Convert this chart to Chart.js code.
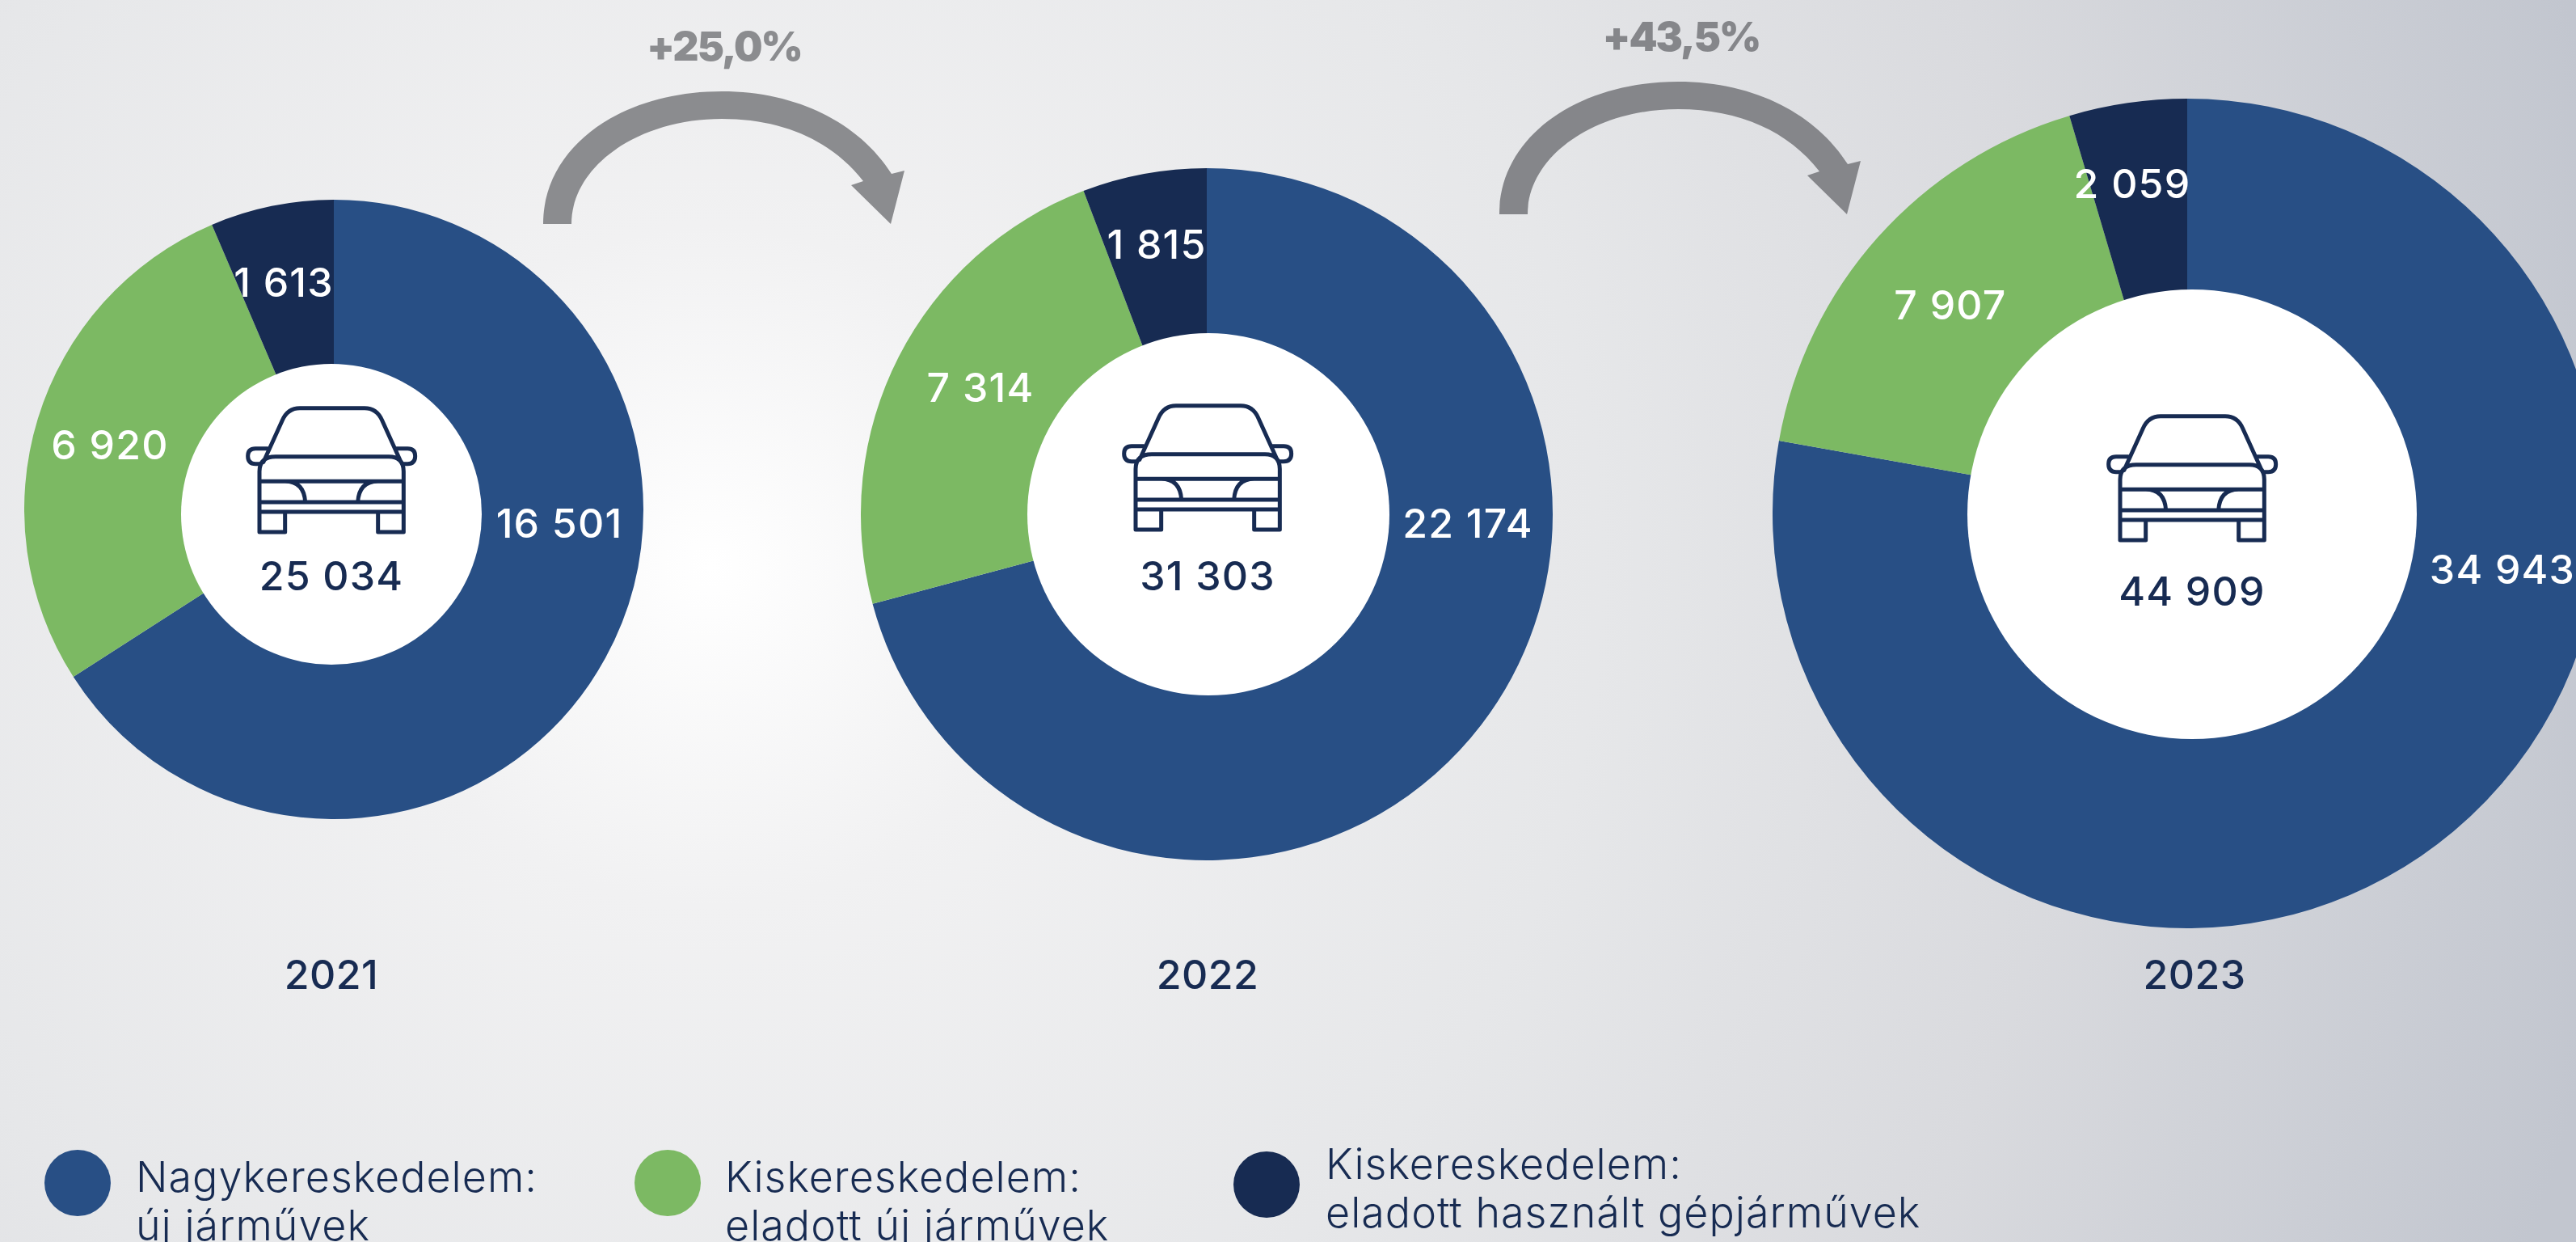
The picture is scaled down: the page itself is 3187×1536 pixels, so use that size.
<!DOCTYPE html>
<html lang="hu">
<head>
<meta charset="utf-8">
<title>Járműértékesítés 2021-2023</title>
<script src="https://cdn.jsdelivr.net/npm/chart.js@4"></script>
<style>
  html, body { margin: 0; padding: 0; width: 3187px; height: 1536px; overflow: hidden; }
  body {
    position: relative;
    font-family: "Inter", sans-serif;
    color: #172b52;
    background: radial-gradient(circle at 880px 700px, #ffffff 0, #f1f1f2 420px, #e6e7e9 1100px, #d9dade 1700px, #c2c6cf 2400px);
  }
  canvas { position: absolute; }
  #arrows { position: absolute; left: 0; top: 0; }
  .year, .growth { position: absolute; transform: translateX(-50%); white-space: nowrap; }
  .year { top: 1175px; font-size: 50px; font-weight: 500; line-height: 60px; letter-spacing: 0.5px; }
  .growth { font-size: 50px; font-weight: 900; line-height: 60px; letter-spacing: -2px; }
  .dot { position: absolute; width: 82px; height: 82px; border-radius: 50%; }
  .legend { position: absolute; font-size: 52px; font-weight: 300; line-height: 60px; letter-spacing: 1px; white-space: nowrap; }
</style>
</head>
<body>
<svg id="arrows" width="3187" height="300">
  <path id="arrow1" fill="#8b8c8f" d="M672,277 C672,180 770,113 893,113 C990,113 1065,155 1103,215 L1119,211 L1102,277 L1053,229 L1068,224 C1030,175 970,147 893,147 C790,147 707,205 707,277 Z"/>
  <path fill="#85868a" transform="translate(1183,-12)" d="M672,277 C672,180 770,113 893,113 C990,113 1065,155 1103,215 L1119,211 L1102,277 L1053,229 L1068,224 C1030,175 970,147 893,147 C790,147 707,205 707,277 Z"/>
</svg>
<div class="growth" id="growth1" style="left:896px;top:27px;color:#8b8c8f"></div>
<div class="growth" id="growth2" style="left:2080px;top:15px;color:#85868a"></div>
<div class="year" id="year1" style="left:410px"></div>
<div class="year" id="year2" style="left:1494px"></div>
<div class="year" id="year3" style="left:2715px"></div>

<div class="dot" id="dot1" style="left:55px;top:1422px"></div>
<div class="dot" id="dot2" style="left:785px;top:1422px"></div>
<div class="dot" id="dot3" style="left:1526px;top:1424px"></div>
<div class="legend" id="legend1" style="left:168px;top:1426px"></div>
<div class="legend" id="legend2" style="left:897px;top:1426px"></div>
<div class="legend" id="legend3" style="left:1640px;top:1410px"></div>

<canvas id="chart2021"></canvas>
<canvas id="chart2022"></canvas>
<canvas id="chart2023"></canvas>

<script>
// Adatok
const years = ["2021", "2022", "2023"];
const categories = [
  ["Nagykereskedelem:", "új járművek"],
  ["Kiskereskedelem:", "eladott új járművek"],
  ["Kiskereskedelem:", "eladott használt gépjárművek"],
];
const values2021 = [16501, 6920, 1613];
const values2022 = [22174, 7314, 1815];
const values2023 = [34943, 7907, 2059];
const totals = [25034, 31303, 44909];
const growthLabels = ["+25,0%", "+43,5%"];

const colors = ["#284f85", "#7cb963", "#172b52"];
const seriesValues = [values2021, values2022, values2023];

// Elhelyezés: a diagramok és a feliratok oldal-koordinátái
const layouts = [
  { x: 413, y: 630, r: 383, hole: [410, 636, 186], carTop: 503, totalX: 410, totalY: 715,
    labels: [[692, 650], [136, 553], [351, 352]] },
  { x: 1493, y: 636, r: 428, hole: [1495, 636, 224], carTop: 500, totalX: 1494, totalY: 715,
    labels: [[1816, 650], [1213, 482], [1431, 305]] },
  { x: 2706, y: 635, r: 513, hole: [2712, 636, 278], carTop: 513, totalX: 2712, totalY: 734,
    labels: [[3096, 707], [2413, 380], [2638, 230]] },
];

function formatNumber(value) {
  return String(value).replace(/\B(?=(\d{3})+$)/g, " ");
}

// Autó ikon, a középső fehér körben
function drawCar(ctx, centerX, top) {
  const path = new Path2D(
    "M265 335 L335 180 Q355 135 400 135 L640 135 Q685 135 705 180 L775 335" +
    "M250 595 L250 370 Q250 315 310 315 L730 315 Q785 315 785 370 L785 595 L690 595 L690 520 M345 520 L345 595 L250 595" +
    "M250 407 L785 407 M250 484 L785 484 M250 520 L785 520" +
    "M345 407 Q415 407 420 484 M690 407 Q620 407 615 484" +
    "M280 285 L235 285 Q207 285 207 313 Q207 342 235 342 L250 342" +
    "M755 285 L800 285 Q828 285 828 313 Q828 342 800 342 L785 342"
  );
  ctx.save();
  ctx.translate(centerX - 517 / 3, top - 130 / 3);
  ctx.scale(1 / 3, 1 / 3);
  ctx.strokeStyle = "#172b52";
  ctx.lineWidth = 15;
  ctx.lineJoin = "round";
  ctx.lineCap = "round";
  ctx.stroke(path);
  ctx.restore();
}

// A fehér kör, az ikon és a számok a körcikkek fölé kerülnek
const centerPlugin = {
  id: "centerPlugin",
  afterDatasetsDraw(chart, args, opts) {
    const layout = opts.layout;
    const ctx = chart.ctx;
    ctx.save();
    ctx.translate(-(layout.x - layout.r), -(layout.y - layout.r));

    ctx.fillStyle = "#ffffff";
    ctx.beginPath();
    ctx.arc(layout.hole[0], layout.hole[1], layout.hole[2], 0, Math.PI * 2);
    ctx.fill();

    drawCar(ctx, layout.totalX, layout.carTop);

    ctx.textAlign = "center";
    ctx.textBaseline = "middle";
    ctx.font = "500 50px Inter";
    ctx.letterSpacing = "1.2px";
    ctx.fillStyle = "#172b52";
    ctx.fillText(formatNumber(opts.total), layout.totalX, layout.totalY);

    ctx.fillStyle = "#ffffff";
    chart.data.datasets[0].data.forEach((value, i) => {
      ctx.fillText(formatNumber(value), layout.labels[i][0], layout.labels[i][1]);
    });
    ctx.restore();
  },
};

function createChart(canvasId, index) {
  const layout = layouts[index];
  const canvas = document.getElementById(canvasId);
  canvas.style.left = layout.x - layout.r + "px";
  canvas.style.top = layout.y - layout.r + "px";
  canvas.width = layout.r * 2;
  canvas.height = layout.r * 2;

  new Chart(canvas.getContext("2d"), {
    type: "pie",
    data: {
      labels: categories.map((c) => c.join(" ")),
      datasets: [
        {
          data: seriesValues[index],
          backgroundColor: colors,
          borderWidth: 0,
        },
      ],
    },
    options: {
      responsive: false,
      animation: false,
      layout: { padding: 0 },
      plugins: {
        legend: { display: false },
        tooltip: { enabled: false },
        centerPlugin: { layout: layout, total: totals[index] },
      },
    },
    plugins: [centerPlugin],
  });
}

function fillTexts() {
  years.forEach((year, i) => {
    document.getElementById("year" + (i + 1)).textContent = year;
  });
  growthLabels.forEach((label, i) => {
    document.getElementById("growth" + (i + 1)).textContent = label;
  });
  categories.forEach((lines, i) => {
    document.getElementById("dot" + (i + 1)).style.background = colors[i];
    document.getElementById("legend" + (i + 1)).innerHTML = lines.join("<br>");
  });
}

// A betűtípus betöltése után rajzolunk
document.fonts.load("500 50px Inter").finally(() => {
  fillTexts();
  createChart("chart2021", 0);
  createChart("chart2022", 1);
  createChart("chart2023", 2);
});
</script>
</body>
</html>
